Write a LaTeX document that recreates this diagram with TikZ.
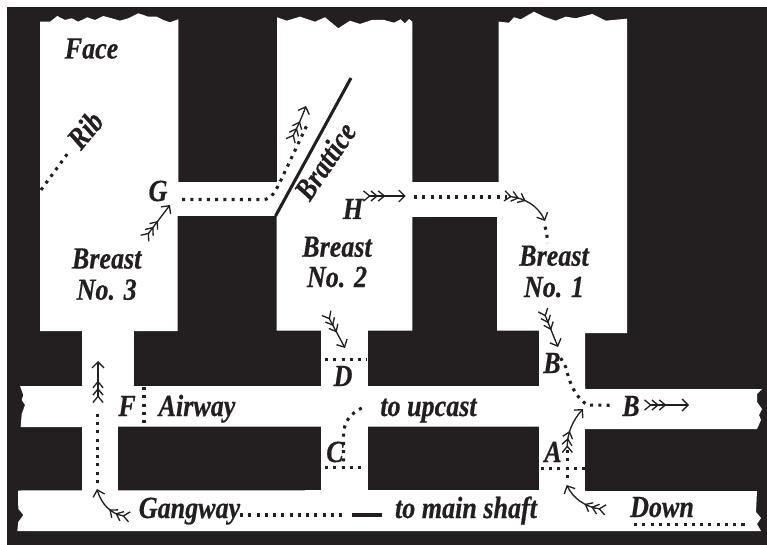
\documentclass[tikz,border=0pt]{standalone}
\usepackage{fontspec}
\usetikzlibrary{arrows.meta,decorations.markings}
\newfontfamily\lblfont[FakeStretch=0.85,FakeBold=0.5]{Liberation Serif}
\definecolor{coal}{HTML}{231F20}
\newcommand{\barbmark}{\draw[-,coal,line width=1pt] (-4.6pt,3.8pt) -- (0pt,0pt) -- (-4.6pt,-3.8pt);}
\tikzset{
  lbl/.style={anchor=base,inner sep=0pt,text=coal,font=\lblfont\bfseries\itshape\fontsize{23}{24}\selectfont},
  rotlbl/.style={lbl,anchor=center},
  dots/.style={draw=coal,line width=2.3pt,dash pattern=on 2.3pt off 3.9pt},
  fletched/.style={draw=coal,line width=1pt,-{Straight Barb[length=4.5pt,width=9pt,line width=1pt]},
    decoration={markings,
      mark=at position 0.5pt with {\barbmark},
      mark=at position 6pt with {\barbmark},
      mark=at position 11.5pt with {\barbmark}},
    postaction={decorate}},
}
\begin{document}
\begin{tikzpicture}[x=0.75pt,y=-0.75pt]
\useasboundingbox (0,0) rectangle (767,545);
\fill[white] (0,0) rectangle (767,545);
\fill[coal] (7,7) rectangle (767,545);
% breasts
\fill[white] (40,21.7)--(50,21.7)--(57.3,16)--(65,20)--(71.7,18.3)--(78.3,21.7)--(87.3,17.3)--(95,20)--(103.3,16)--(111.7,18.3)--(120,20.7)--(128.3,18.3)--(138.3,13.3)--(148.3,16.7)--(156.7,16.7)--(163.3,20)--(170,22.3)--(178.3,19.3)--(178.3,182)--(177.5,182)--(177.5,331)--(40,331)--cycle;
\fill[white] (277,17.3)--(286.7,20.7)--(300,16.7)--(315,21.7)--(325,17.3)--(338.3,28.3)--(350,20.7)--(360,24)--(371.7,20)--(384,20)--(394,22.7)--(400.7,19.3)--(404.7,23.3)--(409,19)--(412.3,21.7)--(412.3,330.5)--(276.5,330.5)--(276.5,216)--(277,216)--cycle;
\fill[white] (498.7,21.7)--(509,22.7)--(514,17.3)--(520.7,19.3)--(534,11.7)--(544,16.7)--(555.7,20.7)--(565.7,16.7)--(575.7,18.3)--(592.3,14)--(605.7,20.7)--(627,18.7)--(627,333)--(585,333)--(585,390)--(539,390)--(539,330.5)--(497,330.5)--(497,217)--(498.7,217)--cycle;
% cross passages
\fill[white] (170,182) rectangle (285,216);
\fill[white] (405,182) rectangle (505,217);
% roads to the breasts
\fill[white] (82,325) rectangle (133.5,390);
\fill[white] (321,325) rectangle (367.5,390);
\fill[white] (82,423) rectangle (118,495);
\fill[white] (321,423) rectangle (367.5,495);
\fill[white] (539,423) rectangle (585,495);
% airway
\fill[white] (20,386)--(23.3,395)--(21.7,400)--(25,405)--(21.7,414)--(20.7,427)--(82,427)--(118,426.5)--(585,426.5)--(585,429)--(757,429)--(761,420)--(759,415)--(762,409)--(757,402)--(757,394)--(762,389)--(585,389)--(585,386)--cycle;
% gangway
\fill[white] (18,490.5)--(18.3,508.7)--(23.3,515)--(18.3,522)--(17.3,531)--(761,531)--(757,524)--(761,518)--(756,512)--(757,491)--(585,491)--(585,490)--cycle;
% brattice
\draw[coal,line width=2.3pt] (275.5,216) -- (351,78);
% dotted routes
\draw[dots] (41,190) -- (68,153);
\draw[dots] (182,199.5) -- (264,199.5) .. controls (272,199) and (276,190) .. (281,180) -- (307,125);
\draw[dots] (414,197) -- (507,197);
\draw[dots] (545,226.7) .. controls (547,232) and (547.3,238) .. (547.3,243);
\draw[dots] (325,359.7) -- (367,359.7);
\draw[dots] (144,387) -- (144,425);
\draw[dots] (97.7,413.7) -- (97.7,483);
\draw[dots] (240,515) -- (347,515);
\draw[coal,line width=2.3pt] (352,515) -- (382,515);
\draw[dots] (361.7,408) .. controls (350,414) and (343.5,422) .. (343.5,436) -- (343.5,468);
\draw[dots] (325,467.7) -- (362.3,467.7);
\draw[dots] (560.7,358) -- (565.7,367) .. controls (569,380) and (573,395) .. (587.3,405) -- (612,405.3);
\draw[dots] (567.3,450) -- (567.3,478);
\draw[dots] (540.7,468.7) -- (585,468.7);
\draw[dots] (634,524.3) -- (746,524.3);
% fletched arrows
\draw[fletched] (148,234) -- (170,205);
\draw[fletched] (293,136) .. controls (297,128) and (302,117) .. (306,106);
\draw[fletched] (369,196) -- (405.7,196);
\draw[fletched] (510,196.5) .. controls (525,198) and (538,206) .. (545,221);
\draw[fletched] (329,318) -- (345,348);
\draw[fletched] (98,397) -- (98,361);
\draw[fletched] (124,516) .. controls (110,514) and (101,503) .. (97,489);
\draw[fletched] (545,315) -- (558,347);
\draw[fletched] (650,405) -- (689,405);
\draw[fletched] (567.3,447) .. controls (567,433) and (573,420) .. (583,409);
\draw[fletched] (600,509) .. controls (585,507) and (573,498) .. (566.7,485);
% labels
\node[lbl] (face) at (91.5,58.5) {Face};
\node[rotlbl,rotate=50] (rib) at (85,130) {Rib};
\node[lbl] (g) at (158,201) {G};
\node[rotlbl,rotate=56] (brattice) at (325,161) {Brattice};
\node[lbl] (h) at (353,219) {H};
\node[lbl] (breast3) at (106.7,268.5) {Breast};
\node[lbl] (no3) at (106.7,299.7) {No. 3};
\node[lbl] (breast2) at (337,256.7) {Breast};
\node[lbl] (no2) at (337,287) {No. 2};
\node[lbl] (breast1) at (554,265.7) {Breast};
\node[lbl] (no1) at (554,297) {No. 1};
\node[lbl] (d) at (343,386) {D};
\node[lbl] (f) at (127,416) {F};
\node[lbl] (airway) at (197,416) {Airway};
\node[lbl] (upcast) at (428.5,416) {to upcast};
\node[lbl] (c) at (335,462) {C};
\node[lbl] (gangway) at (189.5,518) {Gangway};
\node[lbl] (shaft) at (466,518) {to main shaft};
\node[lbl] (down) at (662,517) {Down};
\node[lbl] (a) at (553,462) {A};
\node[lbl] (b1) at (552,373) {B};
\node[lbl] (b2) at (631,416) {B};
\end{tikzpicture}
\end{document}
